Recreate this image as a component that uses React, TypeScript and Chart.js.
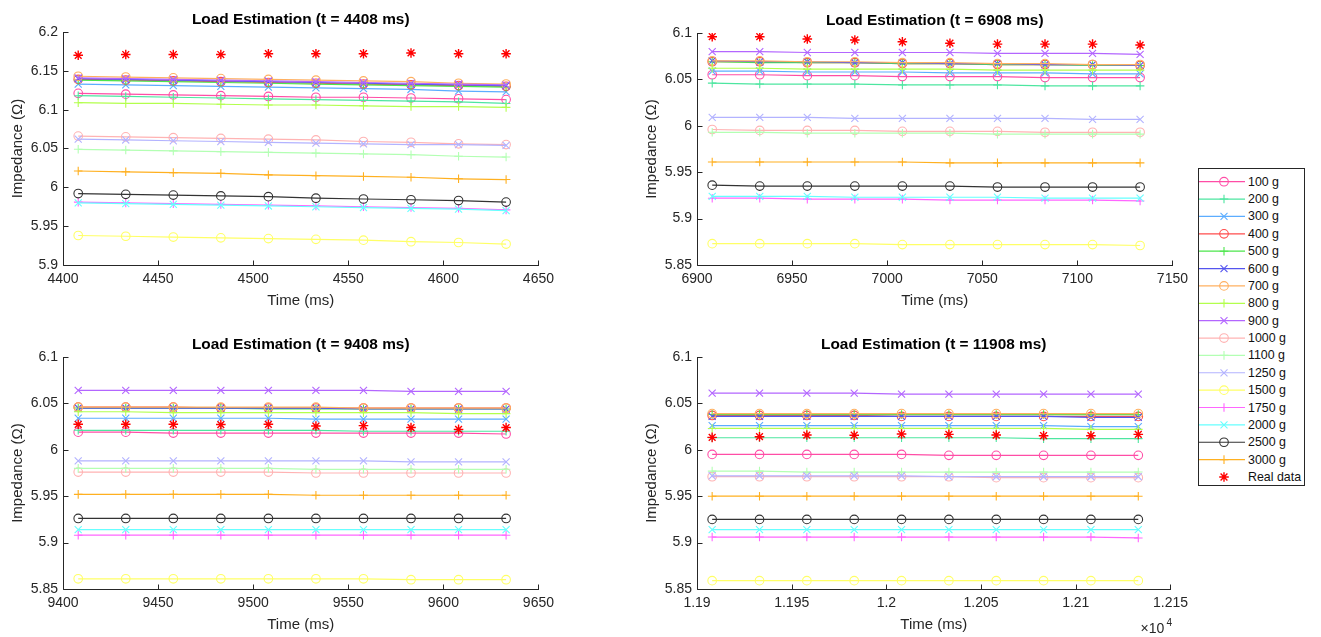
import React, { useEffect, useRef } from "react";
import { Chart, registerables } from "chart.js";
Chart.register(...registerables);

const FONT = '"Liberation Sans", Arial, Helvetica, sans-serif';

const loadLabels = ["100 g", "200 g", "300 g", "400 g", "500 g", "600 g", "700 g", "800 g", "900 g", "1000 g", "1100 g", "1250 g", "1500 g", "1750 g", "2000 g", "2500 g", "3000 g"];
const lineColors = ["#ff4da6", "#4de6a0", "#5cadff", "#ff4d4d", "#4de64d", "#5555ee", "#ffb060", "#b3ff4d", "#b366ff", "#ffb3b3", "#b3ffb3", "#b3b3ff", "#ffff66", "#ff66ff", "#66ffff", "#333333", "#ffb020"];
const markerStyles = ["circle", "cross", "crossRot", "circle", "cross", "crossRot", "circle", "cross", "crossRot", "circle", "cross", "crossRot", "circle", "cross", "crossRot", "circle", "cross"];
const realLabel = "Real data";
const realColor = "#ff0000";

// ---- t = 4408 ms ----
const times4408 = [4408, 4433, 4458, 4483, 4508, 4533, 4558, 4583, 4608, 4633];
const imp4408 = [
  [6.121, 6.120, 6.119, 6.118, 6.117, 6.116, 6.116, 6.115, 6.114, 6.113],
  [6.118, 6.117, 6.116, 6.115, 6.114, 6.113, 6.112, 6.111, 6.110, 6.108],
  [6.133, 6.132, 6.131, 6.130, 6.129, 6.128, 6.127, 6.126, 6.124, 6.123],
  [6.139, 6.138, 6.137, 6.136, 6.135, 6.134, 6.133, 6.132, 6.131, 6.130],
  [6.138, 6.137, 6.136, 6.135, 6.134, 6.133, 6.132, 6.131, 6.130, 6.129],
  [6.140, 6.139, 6.138, 6.137, 6.136, 6.135, 6.134, 6.133, 6.132, 6.131],
  [6.143, 6.142, 6.141, 6.140, 6.139, 6.138, 6.137, 6.136, 6.134, 6.133],
  [6.109, 6.108, 6.108, 6.107, 6.106, 6.106, 6.105, 6.104, 6.104, 6.103],
  [6.141, 6.140, 6.139, 6.138, 6.137, 6.136, 6.135, 6.134, 6.133, 6.132],
  [6.066, 6.065, 6.064, 6.063, 6.062, 6.061, 6.059, 6.058, 6.056, 6.055],
  [6.049, 6.048, 6.047, 6.046, 6.045, 6.044, 6.043, 6.042, 6.040, 6.039],
  [6.062, 6.061, 6.060, 6.059, 6.058, 6.057, 6.056, 6.055, 6.055, 6.054],
  [5.938, 5.937, 5.936, 5.935, 5.934, 5.933, 5.932, 5.930, 5.929, 5.927],
  [5.981, 5.980, 5.979, 5.978, 5.977, 5.976, 5.975, 5.974, 5.973, 5.971],
  [5.980, 5.979, 5.978, 5.977, 5.976, 5.975, 5.974, 5.973, 5.972, 5.970],
  [5.992, 5.991, 5.990, 5.989, 5.988, 5.986, 5.985, 5.984, 5.983, 5.981],
  [6.021, 6.020, 6.019, 6.018, 6.016, 6.015, 6.014, 6.013, 6.011, 6.010],
];
const real4408 = [6.170, 6.171, 6.171, 6.171, 6.172, 6.172, 6.172, 6.173, 6.172, 6.172];

// ---- t = 6908 ms ----
const times6908 = [6908, 6933, 6958, 6983, 7008, 7033, 7058, 7083, 7108, 7133];
const imp6908 = [
  [6.055, 6.055, 6.054, 6.054, 6.053, 6.053, 6.053, 6.052, 6.052, 6.052],
  [6.046, 6.045, 6.045, 6.045, 6.044, 6.044, 6.044, 6.043, 6.043, 6.043],
  [6.059, 6.059, 6.058, 6.058, 6.058, 6.057, 6.057, 6.057, 6.056, 6.056],
  [6.069, 6.069, 6.068, 6.068, 6.067, 6.067, 6.066, 6.066, 6.066, 6.065],
  [6.069, 6.068, 6.068, 6.068, 6.067, 6.067, 6.066, 6.066, 6.065, 6.065],
  [6.070, 6.069, 6.069, 6.068, 6.068, 6.067, 6.067, 6.066, 6.066, 6.065],
  [6.070, 6.070, 6.069, 6.069, 6.068, 6.068, 6.067, 6.067, 6.066, 6.066],
  [6.062, 6.062, 6.061, 6.061, 6.061, 6.061, 6.060, 6.060, 6.060, 6.060],
  [6.080, 6.080, 6.079, 6.079, 6.079, 6.079, 6.078, 6.078, 6.078, 6.077],
  [5.996, 5.995, 5.995, 5.995, 5.994, 5.994, 5.994, 5.993, 5.993, 5.993],
  [5.993, 5.993, 5.992, 5.992, 5.992, 5.992, 5.991, 5.991, 5.991, 5.991],
  [6.009, 6.009, 6.009, 6.008, 6.008, 6.008, 6.008, 6.008, 6.007, 6.007],
  [5.873, 5.873, 5.873, 5.873, 5.872, 5.872, 5.872, 5.872, 5.872, 5.871],
  [5.922, 5.922, 5.921, 5.921, 5.921, 5.920, 5.920, 5.920, 5.920, 5.919],
  [5.924, 5.924, 5.924, 5.923, 5.923, 5.923, 5.923, 5.922, 5.922, 5.922],
  [5.936, 5.935, 5.935, 5.935, 5.935, 5.935, 5.934, 5.934, 5.934, 5.934],
  [5.961, 5.961, 5.961, 5.961, 5.961, 5.960, 5.960, 5.960, 5.960, 5.960],
];
const real6908 = [6.096, 6.096, 6.0935, 6.0925, 6.0905, 6.089, 6.088, 6.088, 6.088, 6.087];

// ---- t = 9408 ms ----
const times9408 = [9408, 9433, 9458, 9483, 9508, 9533, 9558, 9583, 9608, 9633];
const imp9408 = [
  [6.019, 6.019, 6.018, 6.018, 6.018, 6.018, 6.018, 6.018, 6.018, 6.017],
  [6.021, 6.021, 6.021, 6.021, 6.021, 6.021, 6.020, 6.020, 6.020, 6.020],
  [6.034, 6.034, 6.034, 6.034, 6.034, 6.033, 6.033, 6.033, 6.033, 6.033],
  [6.046, 6.046, 6.046, 6.045, 6.045, 6.045, 6.045, 6.045, 6.045, 6.045],
  [6.045, 6.045, 6.045, 6.045, 6.044, 6.044, 6.044, 6.044, 6.044, 6.044],
  [6.045, 6.045, 6.045, 6.045, 6.045, 6.045, 6.044, 6.044, 6.044, 6.044],
  [6.046, 6.046, 6.046, 6.046, 6.046, 6.046, 6.045, 6.045, 6.045, 6.045],
  [6.041, 6.041, 6.040, 6.040, 6.040, 6.040, 6.040, 6.040, 6.039, 6.039],
  [6.064, 6.064, 6.064, 6.064, 6.064, 6.064, 6.064, 6.063, 6.063, 6.063],
  [5.976, 5.976, 5.976, 5.976, 5.976, 5.975, 5.975, 5.975, 5.975, 5.975],
  [5.980, 5.980, 5.980, 5.980, 5.980, 5.979, 5.979, 5.979, 5.979, 5.979],
  [5.988, 5.988, 5.988, 5.988, 5.988, 5.988, 5.988, 5.987, 5.987, 5.987],
  [5.861, 5.861, 5.861, 5.861, 5.861, 5.861, 5.861, 5.860, 5.860, 5.860],
  [5.908, 5.908, 5.908, 5.908, 5.908, 5.908, 5.908, 5.908, 5.908, 5.908],
  [5.914, 5.914, 5.914, 5.914, 5.914, 5.914, 5.914, 5.914, 5.914, 5.914],
  [5.926, 5.926, 5.926, 5.926, 5.926, 5.926, 5.926, 5.926, 5.926, 5.926],
  [5.952, 5.952, 5.952, 5.952, 5.952, 5.951, 5.951, 5.951, 5.951, 5.951],
];
const real9408 = [6.0275, 6.0275, 6.0275, 6.0272, 6.0275, 6.0256, 6.026, 6.024, 6.022, 6.024];

// ---- t = 11908 ms ----
const times11908 = [11908, 11933, 11958, 11983, 12008, 12033, 12058, 12083, 12108, 12133];
const imp11908 = [
  [5.995, 5.995, 5.995, 5.995, 5.995, 5.994, 5.994, 5.994, 5.994, 5.994],
  [6.013, 6.013, 6.013, 6.013, 6.013, 6.013, 6.013, 6.012, 6.012, 6.012],
  [6.026, 6.026, 6.026, 6.026, 6.026, 6.026, 6.026, 6.026, 6.025, 6.025],
  [6.037, 6.037, 6.037, 6.037, 6.036, 6.036, 6.036, 6.036, 6.036, 6.036],
  [6.038, 6.038, 6.038, 6.038, 6.038, 6.038, 6.038, 6.038, 6.038, 6.038],
  [6.036, 6.036, 6.036, 6.036, 6.036, 6.036, 6.036, 6.036, 6.035, 6.035],
  [6.039, 6.039, 6.039, 6.039, 6.039, 6.039, 6.039, 6.039, 6.039, 6.039],
  [6.023, 6.023, 6.023, 6.023, 6.023, 6.023, 6.023, 6.023, 6.022, 6.022],
  [6.061, 6.061, 6.061, 6.061, 6.060, 6.060, 6.060, 6.060, 6.060, 6.060],
  [5.971, 5.971, 5.971, 5.971, 5.971, 5.971, 5.970, 5.970, 5.970, 5.970],
  [5.977, 5.977, 5.976, 5.976, 5.976, 5.976, 5.976, 5.976, 5.976, 5.976],
  [5.972, 5.972, 5.972, 5.972, 5.972, 5.971, 5.971, 5.971, 5.971, 5.971],
  [5.859, 5.859, 5.859, 5.859, 5.859, 5.859, 5.859, 5.859, 5.859, 5.859],
  [5.906, 5.906, 5.906, 5.906, 5.906, 5.906, 5.906, 5.906, 5.906, 5.905],
  [5.914, 5.914, 5.914, 5.914, 5.914, 5.914, 5.914, 5.914, 5.914, 5.914],
  [5.925, 5.925, 5.925, 5.925, 5.925, 5.925, 5.925, 5.925, 5.925, 5.925],
  [5.950, 5.950, 5.950, 5.950, 5.950, 5.950, 5.950, 5.950, 5.950, 5.950],
];
const real11908 = [6.0134, 6.0141, 6.0159, 6.0157, 6.017, 6.0166, 6.0159, 6.0152, 6.0152, 6.0166];

const markerRadius: Record<string, number> = { circle: 4.3, cross: 4.3, crossRot: 5, star: 4.8 };

type PanelCfg = {
  title: string;
  times: number[];
  values: number[][];
  real: number[];
  xMin: number; xMax: number; yMin: number; yMax: number;
  left: number; top: number; width: number; height: number;
  padTop: number; padRight: number; yAxisWidth: number; xAxisHeight: number; xTitlePad: number;
  exponent?: boolean;
};

const panels: PanelCfg[] = [
  { title: "Load Estimation (t = 4408 ms)", times: times4408, values: imp4408, real: real4408, xMin: 4400, xMax: 4650, yMin: 5.9, yMax: 6.2,
    left: 0, top: 0, width: 560, height: 317, padTop: 32, padRight: 16, yAxisWidth: 63, xAxisHeight: 52, xTitlePad: 7 },
  { title: "Load Estimation (t = 6908 ms)", times: times6908, values: imp6908, real: real6908, xMin: 6900, xMax: 7150, yMin: 5.85, yMax: 6.1,
    left: 634, top: 0, width: 560, height: 317, padTop: 33, padRight: 18, yAxisWidth: 63, xAxisHeight: 52, xTitlePad: 7 },
  { title: "Load Estimation (t = 9408 ms)", times: times9408, values: imp9408, real: real9408, xMin: 9400, xMax: 9650, yMin: 5.85, yMax: 6.1,
    left: 0, top: 320, width: 560, height: 317, padTop: 37, padRight: 16, yAxisWidth: 63, xAxisHeight: 48, xTitlePad: 3 },
  { title: "Load Estimation (t = 11908 ms)", times: times11908, values: imp11908, real: real11908, xMin: 11900, xMax: 12150, yMin: 5.85, yMax: 6.1,
    left: 634, top: 320, width: 560, height: 317, padTop: 37, padRight: 18, yAxisWidth: 63, xAxisHeight: 48, xTitlePad: 3, exponent: true },
];

const fmt = (v: number) => String(+Number(v).toFixed(4));

const matlabAxes = {
  id: "matlabAxes",
  afterDraw(chart: any, _args: any, opts: any) {
    const { ctx, chartArea: a, scales } = chart;
    ctx.save();
    ctx.strokeStyle = "#262626";
    ctx.lineWidth = 1;
    ctx.beginPath();
    const L = Math.round(a.left) + 0.5;
    const B = Math.round(a.bottom) + 0.5;
    ctx.moveTo(L, Math.round(a.top));
    ctx.lineTo(L, B);
    ctx.lineTo(Math.round(a.right) + 1, B);
    scales.x.ticks.forEach((t: any) => {
      const px = Math.round(scales.x.getPixelForValue(t.value)) + 0.5;
      ctx.moveTo(px, B);
      ctx.lineTo(px, B - 5);
    });
    scales.y.ticks.forEach((t: any) => {
      const py = Math.round(scales.y.getPixelForValue(t.value)) + 0.5;
      ctx.moveTo(L, py);
      ctx.lineTo(L + 5, py);
    });
    ctx.stroke();
    ctx.fillStyle = "#000";
    ctx.font = `bold 15.4px ${FONT}`;
    ctx.textAlign = "center";
    ctx.textBaseline = "middle";
    ctx.fillText(opts.title, (a.left + a.right) / 2, a.top - 12.5);
    if (opts.exponent) {
      ctx.fillStyle = "#262626";
      ctx.textAlign = "left";
      ctx.font = `14px ${FONT}`;
      ctx.fillText("\u00d710", a.right - 30, a.bottom + 40);
      ctx.font = `10px ${FONT}`;
      ctx.fillText("4", a.right - 4, a.bottom + 34);
    }
    ctx.restore();
  },
};

function Panel({ cfg }: { cfg: PanelCfg }) {
  const ref = useRef<HTMLCanvasElement>(null);
  useEffect(() => {
    const datasets: any[] = loadLabels.map((label, i) => ({
      label,
      data: cfg.times.map((t, j) => ({ x: t, y: cfg.values[i][j] })),
      borderColor: lineColors[i],
      backgroundColor: "transparent",
      borderWidth: 1.2,
      pointStyle: markerStyles[i],
      pointRadius: markerRadius[markerStyles[i]],
      pointBorderColor: lineColors[i],
      pointBackgroundColor: "transparent",
      pointBorderWidth: 1.1,
      showLine: true,
      order: 20 - i,
    }));
    datasets.push({
      label: realLabel,
      data: cfg.times.map((t, j) => ({ x: t, y: cfg.real[j] })),
      borderColor: realColor,
      backgroundColor: "transparent",
      showLine: false,
      pointStyle: "star",
      pointRadius: markerRadius.star,
      pointBorderColor: realColor,
      pointBackgroundColor: realColor,
      pointBorderWidth: 1.4,
      order: 0,
    });
    const chart = new Chart(ref.current!, {
      type: "line",
      data: { datasets },
      plugins: [matlabAxes as any],
      options: {
        responsive: false,
        animation: false,
        events: [],
        layout: { padding: { top: cfg.padTop, right: cfg.padRight, left: 0, bottom: 0 } },
        plugins: {
          legend: { display: false },
          tooltip: { enabled: false },
          matlabAxes: { title: cfg.title, exponent: !!cfg.exponent },
        } as any,
        scales: {
          x: {
            type: "linear",
            min: cfg.xMin,
            max: cfg.xMax,
            grid: { display: false, drawTicks: false },
            border: { display: false },
            ticks: {
              stepSize: 50,
              autoSkip: false,
              maxRotation: 0,
              padding: 6,
              color: "#262626",
              font: { family: FONT, size: 14 },
              callback: (v: any) => (cfg.exponent ? fmt(Number(v) / 10000) : fmt(Number(v))),
            },
            title: {
              display: true,
              text: "Time (ms)",
              color: "#262626",
              font: { family: FONT, size: 15 },
              padding: { top: 0, bottom: cfg.xTitlePad },
            },
            afterFit: (s: any) => { s.height = cfg.xAxisHeight; },
          },
          y: {
            type: "linear",
            min: cfg.yMin,
            max: cfg.yMax,
            grid: { display: false, drawTicks: false },
            border: { display: false },
            ticks: {
              stepSize: 0.05,
              autoSkip: false,
              padding: 5,
              color: "#262626",
              font: { family: FONT, size: 14 },
              callback: (v: any) => fmt(Number(v)),
            },
            title: {
              display: true,
              text: "Impedance (\u03a9)",
              color: "#262626",
              font: { family: FONT, size: 15 },
              padding: { top: 8.5, bottom: 0 },
            },
            afterFit: (s: any) => { s.width = cfg.yAxisWidth; },
          },
        },
      } as any,
    });
    return () => chart.destroy();
  }, [cfg]);
  return (
    <div style={{ position: "absolute", left: cfg.left, top: cfg.top, width: cfg.width, height: cfg.height }}>
      <canvas ref={ref} width={cfg.width} height={cfg.height} style={{ width: cfg.width, height: cfg.height, display: "block" }} />
    </div>
  );
}

function Marker({ style, color, cx, cy }: { style: string; color: string; cx: number; cy: number }) {
  if (style === "circle") return <circle cx={cx} cy={cy} r={4.3} fill="none" stroke={color} strokeWidth={1.1} />;
  if (style === "cross")
    return <path d={`M${cx - 4.3} ${cy}H${cx + 4.3}M${cx} ${cy - 4.3}V${cy + 4.3}`} stroke={color} strokeWidth={1.1} />;
  if (style === "crossRot")
    return <path d={`M${cx - 3.5} ${cy - 3.5}L${cx + 3.5} ${cy + 3.5}M${cx - 3.5} ${cy + 3.5}L${cx + 3.5} ${cy - 3.5}`} stroke={color} strokeWidth={1.1} />;
  return (
    <path
      d={`M${cx - 4.8} ${cy}H${cx + 4.8}M${cx} ${cy - 4.8}V${cy + 4.8}M${cx - 3.4} ${cy - 3.4}L${cx + 3.4} ${cy + 3.4}M${cx - 3.4} ${cy + 3.4}L${cx + 3.4} ${cy - 3.4}`}
      stroke={color}
      strokeWidth={1.4}
    />
  );
}

function Legend() {
  const rows = [
    ...loadLabels.map((l, i) => ({ label: l, color: lineColors[i], style: markerStyles[i], line: true })),
    { label: realLabel, color: realColor, style: "star", line: false },
  ];
  const rowH = 17.37;
  const W = 107;
  const H = 318;
  return (
    <div style={{ position: "absolute", left: 1198, top: 168, width: W, height: H, border: "1px solid #262626", background: "#fff", boxSizing: "border-box" }}>
      <svg width={W} height={H} style={{ position: "absolute", left: -1, top: -1 }}>
        {rows.map((r, i) => {
          const y = 13.7 + i * rowH;
          return (
            <g key={r.label}>
              {r.line && <line x1={1} x2={47} y1={y} y2={y} stroke={r.color} strokeWidth={1.2} />}
              <Marker style={r.style} color={r.color} cx={26} cy={y} />
              <text x={50} y={y} dominantBaseline="central" fontFamily={FONT} fontSize={12.4} fill="#111">
                {r.label}
              </text>
            </g>
          );
        })}
      </svg>
    </div>
  );
}

export default function App() {
  return (
    <div style={{ position: "fixed", left: 0, top: 0, width: 1321, height: 637, background: "#fff", overflow: "hidden" }}>
      {panels.map((p) => (
        <Panel key={p.title} cfg={p} />
      ))}
      <Legend />
    </div>
  );
}
